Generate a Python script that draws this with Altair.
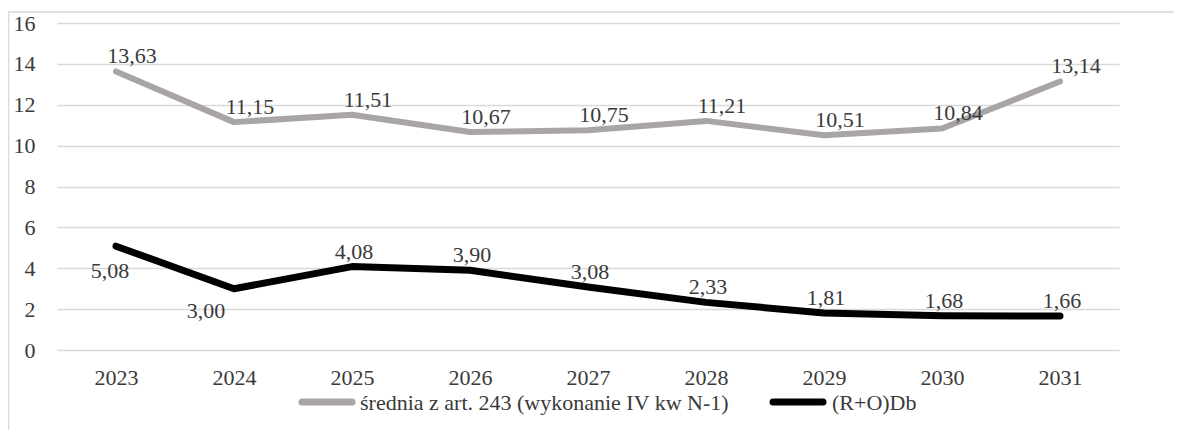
import altair as alt
import pandas as pd

# ---- data ----
lata = ["2023", "2024", "2025", "2026", "2027", "2028", "2029", "2030", "2031"]
srednia = [13.63, 11.15, 11.51, 10.67, 10.75, 11.21, 10.51, 10.84, 13.14]
rodb = [5.08, 3.00, 4.08, 3.90, 3.08, 2.33, 1.81, 1.68, 1.66]
serie = ["średnia z art. 243 (wykonanie IV kw N-1)", "(R+O)Db"]
kolory = ["#a9a5a5", "#000000"]
y_ticks = [0, 2, 4, 6, 8, 10, 12, 14, 16]

rows = []
for s, vals in zip(serie, [srednia, rodb]):
    for r, v in zip(lata, vals):
        rows.append({"rok": r, "seria": s, "wartosc": v,
                     "etykieta": f"{v:.2f}".replace(".", ",")})
df = pd.DataFrame(rows)

FONT = "Liberation Serif"
TXT = "#3a3a3a"
GRID = "#d9d9d9"
W, H = 1062, 327
FS = 22

x_enc = alt.X("rok:N", sort=lata,
              scale=alt.Scale(type="point", padding=0.5),
              axis=alt.Axis(title=None, grid=False, domain=False, ticks=False,
                            labelAngle=0, labelFont=FONT, labelFontSize=FS,
                            labelColor=TXT, labelPadding=17))
y_enc = alt.Y("wartosc:Q",
              scale=alt.Scale(domain=[0, 16], nice=False, zero=True),
              axis=alt.Axis(title=None, values=y_ticks, domain=False, ticks=False,
                            labelFont=FONT, labelFontSize=FS, labelColor=TXT,
                            labelPadding=22, gridColor=GRID, gridWidth=1.5))
color_enc = alt.Color("seria:N", scale=alt.Scale(domain=serie, range=kolory), legend=None)

base = alt.Chart(df)

grey_line = base.transform_filter(alt.datum.seria == serie[0]).mark_line(
    strokeWidth=6, strokeCap="round", strokeJoin="round"
).encode(x=x_enc, y=y_enc, color=color_enc)

black_line = base.transform_filter(alt.datum.seria == serie[1]).mark_line(
    strokeWidth=7, strokeCap="round", strokeJoin="round"
).encode(x=x_enc, y=y_enc, color=color_enc)

def labels(chart, dx, dy):
    return chart.mark_text(dx=dx, dy=dy, baseline="middle", align="center",
                           font=FONT, fontSize=FS, color=TXT).encode(
        x=alt.X("rok:N", sort=lata), y="wartosc:Q", text="etykieta:N")

grey_labels = labels(base.transform_filter(alt.datum.seria == serie[0]), 16, -15)
black_labels = labels(base.transform_filter(
    (alt.datum.seria == serie[1]) & (alt.datum.rok != "2023") & (alt.datum.rok != "2024")), 2, -15)
black_2023 = labels(base.transform_filter(
    (alt.datum.seria == serie[1]) & (alt.datum.rok == "2023")), -6, 25)
black_2024 = labels(base.transform_filter(
    (alt.datum.seria == serie[1]) & (alt.datum.rok == "2024")), -28, 22)

# ---- manual legend ----
leg_y = 379
leg_grey = alt.Chart(pd.DataFrame({"seria": [serie[0]]}))
leg_black = alt.Chart(pd.DataFrame({"seria": [serie[1]]}))

sw_grey = leg_grey.mark_rule(strokeWidth=7, strokeCap="round", color=kolory[0]).encode(
    x=alt.value(245), x2=alt.value(295), y=alt.value(leg_y))
tx_grey = leg_grey.mark_text(align="left", baseline="middle", font=FONT, fontSize=FS,
                             color=TXT).encode(
    x=alt.value(303), y=alt.value(leg_y + 1), text="seria:N")
sw_black = leg_black.mark_rule(strokeWidth=7, strokeCap="round", color=kolory[1]).encode(
    x=alt.value(716), x2=alt.value(766), y=alt.value(leg_y))
tx_black = leg_black.mark_text(align="left", baseline="middle", font=FONT, fontSize=FS,
                               color=TXT).encode(
    x=alt.value(775), y=alt.value(leg_y + 1), text="seria:N")

# ---- outer frame (cropped chart border) ----
frame = alt.Chart(pd.DataFrame({"f": [0]}))
frame_top = frame.mark_rule(color=GRID, strokeWidth=1.5).encode(
    x=alt.value(-49), x2=alt.value(1125), y=alt.value(-11))
frame_left = frame.mark_rule(color=GRID, strokeWidth=1.5).encode(
    x=alt.value(-48.5), y=alt.value(-11), y2=alt.value(410))

chart = alt.layer(
    frame_top, frame_left,
    grey_line, black_line,
    grey_labels, black_labels, black_2023, black_2024,
    sw_grey, tx_grey, sw_black, tx_black,
).properties(
    width=W, height=H,
    padding={"left": 49, "top": 15, "right": 55, "bottom": 80},
    autosize=alt.AutoSizeParams(type="none"),
    background="white",
).configure_view(stroke=None)

chart.save("out.html", embed_options={"renderer": "svg", "actions": False})
